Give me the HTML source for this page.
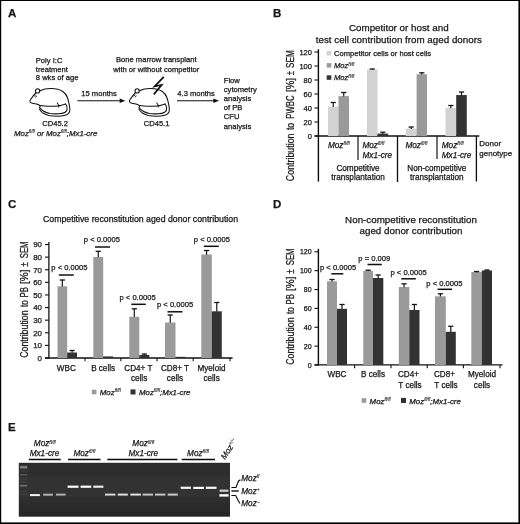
<!DOCTYPE html>
<html lang="en">
<head>
<meta charset="utf-8">
<title>Figure</title>
<style>
html,body{margin:0;padding:0;background:#fff;}
body{width:520px;height:524px;overflow:hidden;position:relative;}
svg{display:block;position:absolute;left:0;top:0;}
svg text{font-family:"Liberation Sans", sans-serif;fill:#161616;stroke:#161616;stroke-width:0.25px;}
.frame{position:absolute;left:0;top:0;width:520px;height:524px;box-sizing:border-box;border-style:solid;border-color:#000;border-width:1px 1.5px 1.5px 1px;pointer-events:none;}
</style>
</head>
<body>
<svg width="520" height="524" viewBox="0 0 520 524">
<rect x="0" y="0" width="520" height="524" fill="#fff"/>
<g filter="url(#soft)">
<text x="8" y="17.3" font-size="11.5" text-anchor="start" font-weight="bold">A</text>
<text x="35.8" y="62.8" font-size="7.6" text-anchor="start">Poly I:C</text>
<text x="35.8" y="71.6" font-size="7.6" text-anchor="start">treatment</text>
<text x="35.8" y="80.4" font-size="7.6" text-anchor="start">8 wks of age</text>
<text x="81.3" y="95.7" font-size="7.6" text-anchor="start">15 months</text>
<text x="42.2" y="126.2" font-size="7.6" text-anchor="start">CD45.2</text>
<text x="14" y="135.8" font-size="7.85" text-anchor="start" font-style="italic">Moz<tspan font-size="4.6" dy="-2.6" stroke-width="0.1">fl/fl</tspan><tspan dy="2.6"> or </tspan>Moz<tspan font-size="4.6" dy="-2.6" stroke-width="0.1">fl/fl</tspan><tspan dy="2.6">;Mx1-cre</tspan></text>
<text x="156.3" y="62.4" font-size="7.6" text-anchor="middle">Bone marrow transplant</text>
<text x="156.3" y="71.6" font-size="7.6" text-anchor="middle">with or without competitor</text>
<text x="143.7" y="126.3" font-size="7.6" text-anchor="start">CD45.1</text>
<text x="177.3" y="96.0" font-size="7.6" text-anchor="start">4.3 months</text>
<text x="223.8" y="83" font-size="7.6" text-anchor="start">Flow</text>
<text x="223.8" y="92.1" font-size="7.6" text-anchor="start">cytometry</text>
<text x="223.8" y="101.3" font-size="7.6" text-anchor="start">analysis</text>
<text x="223.8" y="110.3" font-size="7.6" text-anchor="start">of PB</text>
<text x="223.8" y="119.3" font-size="7.6" text-anchor="start">CFU</text>
<text x="223.8" y="128.8" font-size="7.6" text-anchor="start">analysis</text>
<line x1="77.4" y1="100.7" x2="121.3" y2="100.7" stroke="#111" stroke-width="1.1" stroke-linecap="butt"/>
<path d="M125.3,100.7 L119.7,98.45 L119.7,102.95 Z" fill="#111"/>
<line x1="177" y1="100.8" x2="215" y2="100.8" stroke="#111" stroke-width="1.1" stroke-linecap="butt"/>
<path d="M219,100.8 L213.4,98.55 L213.4,103.05 Z" fill="#111"/>
<g fill="none" stroke="#111" stroke-width="1.05" stroke-linecap="round" stroke-linejoin="round"><path d="M40,90.7 C43.5,89 47.5,88.4 51.3,88.5 C55,88.6 59.5,89.4 62.5,91.3 C65,93 66.5,95 67.4,97.5 C68.3,100 68.7,102 69.2,104.5 C69.8,107.3 70.3,109.5 69.6,111.6 C68.8,113.8 67,114.8 65,115.3 C62.5,116 60,116.2 57.5,116.2 C54.5,116.2 51.5,116 48.7,115.4 C46.3,114.8 44.2,113.9 42.5,112.7 C41.2,111.7 40.2,110.5 39.4,109"/><path d="M65.6,104 C66.4,105 66.9,106.5 67.1,108 C67.3,109.8 66.7,111.3 65.2,112.2 C63.3,113.3 61,113.7 58.7,113.8 C55.8,113.9 52.8,113.9 50,113.5 C47.7,113.1 45.6,112.4 43.7,111.2 C42.3,110.3 41,109.3 40,108.1"/><path d="M35.9,92.6 C34.7,94 33.5,95.4 32.5,96.9 C31.6,98.1 30.6,99.3 30.1,100.4 C29.7,101.4 30,102.2 30.8,102.6 C31.7,103.1 32.7,103.4 33.8,103.5 C35.3,103.7 36.8,103.9 38.1,104.4 C39.2,104.8 40,105.4 40.1,106.3 C40.2,106.8 39.9,107.2 39.4,107.5"/><path d="M40,105.4 C43,105.9 46,106.2 48.8,106.25 C51.8,106.3 54.7,106.2 57.5,105.9 C60.2,105.6 62.8,105 65.6,104"/><path d="M57.3,103 C58.3,104.2 59,105.6 58.7,107 M58.6,105.3 L60.2,105.8"/><circle cx="37.6" cy="90.9" r="2.1" fill="#fff"/><path d="M34.4,96 L35.6,95 M35.6,97 L36.7,96.1" stroke-width="0.9"/></g>
<g transform="translate(99.5,0)"><g fill="none" stroke="#111" stroke-width="1.05" stroke-linecap="round" stroke-linejoin="round"><path d="M40,90.7 C43.5,89 47.5,88.4 51.3,88.5 C55,88.6 59.5,89.4 62.5,91.3 C65,93 66.5,95 67.4,97.5 C68.3,100 68.7,102 69.2,104.5 C69.8,107.3 70.3,109.5 69.6,111.6 C68.8,113.8 67,114.8 65,115.3 C62.5,116 60,116.2 57.5,116.2 C54.5,116.2 51.5,116 48.7,115.4 C46.3,114.8 44.2,113.9 42.5,112.7 C41.2,111.7 40.2,110.5 39.4,109"/><path d="M65.6,104 C66.4,105 66.9,106.5 67.1,108 C67.3,109.8 66.7,111.3 65.2,112.2 C63.3,113.3 61,113.7 58.7,113.8 C55.8,113.9 52.8,113.9 50,113.5 C47.7,113.1 45.6,112.4 43.7,111.2 C42.3,110.3 41,109.3 40,108.1"/><path d="M35.9,92.6 C34.7,94 33.5,95.4 32.5,96.9 C31.6,98.1 30.6,99.3 30.1,100.4 C29.7,101.4 30,102.2 30.8,102.6 C31.7,103.1 32.7,103.4 33.8,103.5 C35.3,103.7 36.8,103.9 38.1,104.4 C39.2,104.8 40,105.4 40.1,106.3 C40.2,106.8 39.9,107.2 39.4,107.5"/><path d="M40,105.4 C43,105.9 46,106.2 48.8,106.25 C51.8,106.3 54.7,106.2 57.5,105.9 C60.2,105.6 62.8,105 65.6,104"/><path d="M57.3,103 C58.3,104.2 59,105.6 58.7,107 M58.6,105.3 L60.2,105.8"/><circle cx="37.6" cy="90.9" r="2.1" fill="#fff"/><path d="M34.4,96 L35.6,95 M35.6,97 L36.7,96.1" stroke-width="0.9"/></g></g>
<path d="M163.8,76.8 L154.6,86.4 L161.6,85 L153.8,94.4" fill="none" stroke="#111" stroke-width="1.7" stroke-linejoin="miter"/>
<text x="273" y="17.3" font-size="11.5" text-anchor="start" font-weight="bold">B</text>
<text x="398.8" y="31" font-size="9.8" text-anchor="middle">Competitor or host and</text>
<text x="398.8" y="42.6" font-size="9.8" text-anchor="middle">test cell contribution from aged donors</text>
<text transform="translate(293.6,181.15) rotate(-90)" font-size="10" textLength="47.60" lengthAdjust="spacingAndGlyphs">Contribution</text>
<text transform="translate(293.6,130.05) rotate(-90)" font-size="10" textLength="7.20" lengthAdjust="spacingAndGlyphs">to</text>
<text transform="translate(293.6,118.65) rotate(-90)" font-size="10" textLength="23.20" lengthAdjust="spacingAndGlyphs">PWBC</text>
<text transform="translate(293.6,91.95) rotate(-90)" font-size="10" textLength="13.80" lengthAdjust="spacingAndGlyphs">[%]</text>
<text transform="translate(293.6,75.35) rotate(-90)" font-size="10" textLength="4.10" lengthAdjust="spacingAndGlyphs">±</text>
<text transform="translate(293.6,67.95) rotate(-90)" font-size="10" textLength="17.60" lengthAdjust="spacingAndGlyphs">SEM</text>
<line x1="318.4" y1="49.2" x2="318.4" y2="181.6" stroke="#111" stroke-width="1.4" stroke-linecap="butt"/>
<line x1="314.5" y1="136" x2="479.3" y2="136" stroke="#111" stroke-width="1.3" stroke-linecap="butt"/>
<line x1="314.5" y1="136.0" x2="318.3" y2="136.0" stroke="#111" stroke-width="1.1" stroke-linecap="butt"/>
<text x="311.9" y="138.7" font-size="7.5" text-anchor="end">0</text>
<line x1="314.5" y1="122.0" x2="318.3" y2="122.0" stroke="#111" stroke-width="1.1" stroke-linecap="butt"/>
<text x="311.9" y="124.7" font-size="7.5" text-anchor="end">20</text>
<line x1="314.5" y1="108.0" x2="318.3" y2="108.0" stroke="#111" stroke-width="1.1" stroke-linecap="butt"/>
<text x="311.9" y="110.7" font-size="7.5" text-anchor="end">40</text>
<line x1="314.5" y1="94.0" x2="318.3" y2="94.0" stroke="#111" stroke-width="1.1" stroke-linecap="butt"/>
<text x="311.9" y="96.7" font-size="7.5" text-anchor="end">60</text>
<line x1="314.5" y1="80.0" x2="318.3" y2="80.0" stroke="#111" stroke-width="1.1" stroke-linecap="butt"/>
<text x="311.9" y="82.7" font-size="7.5" text-anchor="end">80</text>
<line x1="314.5" y1="66.0" x2="318.3" y2="66.0" stroke="#111" stroke-width="1.1" stroke-linecap="butt"/>
<text x="311.9" y="68.7" font-size="7.5" text-anchor="end">100</text>
<line x1="314.5" y1="52.0" x2="318.3" y2="52.0" stroke="#111" stroke-width="1.1" stroke-linecap="butt"/>
<text x="311.9" y="54.7" font-size="7.5" text-anchor="end">120</text>
<line x1="358" y1="136" x2="358" y2="160" stroke="#111" stroke-width="1.2" stroke-linecap="butt"/>
<line x1="397.5" y1="136" x2="397.5" y2="182" stroke="#111" stroke-width="1.3" stroke-linecap="butt"/>
<line x1="437" y1="136" x2="437" y2="159" stroke="#111" stroke-width="1.2" stroke-linecap="butt"/>
<line x1="476.4" y1="136" x2="476.4" y2="181.5" stroke="#111" stroke-width="1.3" stroke-linecap="butt"/>
<rect x="328.00" y="106.60" width="10.50" height="29.40" fill="#d2d2d2"/>
<line x1="333.25" y1="102.5" x2="333.25" y2="106.89999999999999" stroke="#151515" stroke-width="1.2" stroke-linecap="butt"/>
<line x1="330.65" y1="102.5" x2="335.85" y2="102.5" stroke="#151515" stroke-width="1.3" stroke-linecap="butt"/>
<rect x="338.50" y="96.10" width="10.50" height="39.90" fill="#9a9a9a"/>
<line x1="343.75" y1="92.5" x2="343.75" y2="96.39999999999999" stroke="#151515" stroke-width="1.2" stroke-linecap="butt"/>
<line x1="341.15" y1="92.5" x2="346.35" y2="92.5" stroke="#151515" stroke-width="1.3" stroke-linecap="butt"/>
<rect x="367.00" y="69.50" width="10.50" height="66.50" fill="#d2d2d2"/>
<line x1="372.25" y1="69" x2="372.25" y2="69.8" stroke="#151515" stroke-width="1.2" stroke-linecap="butt"/>
<line x1="369.65" y1="69" x2="374.85" y2="69" stroke="#151515" stroke-width="1.3" stroke-linecap="butt"/>
<rect x="377.50" y="133.60" width="10.70" height="2.40" fill="#333333"/>
<line x1="382.85" y1="132.2" x2="382.85" y2="133.9" stroke="#151515" stroke-width="1.2" stroke-linecap="butt"/>
<line x1="380.25" y1="132.2" x2="385.45000000000005" y2="132.2" stroke="#151515" stroke-width="1.3" stroke-linecap="butt"/>
<rect x="405.80" y="128.65" width="10.80" height="7.35" fill="#d2d2d2"/>
<line x1="411.20000000000005" y1="127" x2="411.20000000000005" y2="128.95000000000002" stroke="#151515" stroke-width="1.2" stroke-linecap="butt"/>
<line x1="408.6" y1="127" x2="413.80000000000007" y2="127" stroke="#151515" stroke-width="1.3" stroke-linecap="butt"/>
<rect x="416.60" y="74.26" width="10.40" height="61.74" fill="#9a9a9a"/>
<line x1="421.8" y1="72.8" x2="421.8" y2="74.56" stroke="#151515" stroke-width="1.2" stroke-linecap="butt"/>
<line x1="419.2" y1="72.8" x2="424.40000000000003" y2="72.8" stroke="#151515" stroke-width="1.3" stroke-linecap="butt"/>
<rect x="445.50" y="108.00" width="10.70" height="28.00" fill="#d2d2d2"/>
<line x1="450.85" y1="105.5" x2="450.85" y2="108.3" stroke="#151515" stroke-width="1.2" stroke-linecap="butt"/>
<line x1="448.25" y1="105.5" x2="453.45000000000005" y2="105.5" stroke="#151515" stroke-width="1.3" stroke-linecap="butt"/>
<rect x="456.20" y="95.05" width="10.60" height="40.95" fill="#333333"/>
<line x1="461.5" y1="92" x2="461.5" y2="95.35000000000001" stroke="#151515" stroke-width="1.2" stroke-linecap="butt"/>
<line x1="458.9" y1="92" x2="464.1" y2="92" stroke="#151515" stroke-width="1.3" stroke-linecap="butt"/>
<rect x="326.70" y="51.00" width="4.60" height="4.50" fill="#d2d2d2"/>
<text x="334" y="55.8" font-size="7.6" text-anchor="start">Competitor cells or host cells</text>
<rect x="326.70" y="63.10" width="4.60" height="4.50" fill="#9a9a9a"/>
<text x="334" y="68.2" font-size="7.6" text-anchor="start" font-style="italic">Moz<tspan font-size="4.6" dy="-2.6" stroke-width="0.1">fl/fl</tspan></text>
<rect x="326.70" y="75.30" width="4.60" height="4.50" fill="#333333"/>
<text x="334" y="80.1" font-size="7.6" text-anchor="start" font-style="italic">Moz<tspan font-size="4.6" dy="-2.6" stroke-width="0.1">fl/fl</tspan></text>
<text x="328" y="147.6" font-size="8.2" text-anchor="start" font-style="italic">Moz<tspan font-size="5" dy="-2.8" stroke-width="0.1">fl/fl</tspan></text>
<text x="362.5" y="147.6" font-size="8.2" text-anchor="start" font-style="italic">Moz<tspan font-size="5" dy="-2.8" stroke-width="0.1">fl/fl</tspan></text>
<text x="362.5" y="158" font-size="8.2" text-anchor="start" font-style="italic">Mx1-cre</text>
<text x="405.5" y="147.6" font-size="8.2" text-anchor="start" font-style="italic">Moz<tspan font-size="5" dy="-2.8" stroke-width="0.1">fl/fl</tspan></text>
<text x="441.8" y="147.6" font-size="8.2" text-anchor="start" font-style="italic">Moz<tspan font-size="5" dy="-2.8" stroke-width="0.1">fl/fl</tspan></text>
<text x="441.8" y="158" font-size="8.2" text-anchor="start" font-style="italic">Mx1-cre</text>
<text x="479.3" y="146.4" font-size="8" text-anchor="start">Donor</text>
<text x="479.3" y="156.2" font-size="8" text-anchor="start">genotype</text>
<text x="358" y="171" font-size="8.2" text-anchor="middle">Competitive</text>
<text x="358" y="180.3" font-size="8.2" text-anchor="middle">transplantation</text>
<text x="436.8" y="171" font-size="8.2" text-anchor="middle">Non-competitive</text>
<text x="436.8" y="180.3" font-size="8.2" text-anchor="middle">transplantation</text>
<text x="8" y="208.2" font-size="11.5" text-anchor="start" font-weight="bold">C</text>
<text x="43" y="221.7" font-size="8.75" text-anchor="start">Competitive reconstitution aged donor contribution</text>
<text transform="translate(27.8,357.85) rotate(-90)" font-size="10" textLength="47.40" lengthAdjust="spacingAndGlyphs">Contribution</text>
<text transform="translate(27.8,306.95) rotate(-90)" font-size="10" textLength="6.80" lengthAdjust="spacingAndGlyphs">to</text>
<text transform="translate(27.8,297.45) rotate(-90)" font-size="10" textLength="10.50" lengthAdjust="spacingAndGlyphs">PB</text>
<text transform="translate(27.8,284.05) rotate(-90)" font-size="10" textLength="14.50" lengthAdjust="spacingAndGlyphs">[%]</text>
<text transform="translate(27.8,266.65) rotate(-90)" font-size="10" textLength="4.50" lengthAdjust="spacingAndGlyphs">±</text>
<text transform="translate(27.8,258.25) rotate(-90)" font-size="10" textLength="16.80" lengthAdjust="spacingAndGlyphs">SEM</text>
<line x1="48.9" y1="242" x2="48.9" y2="358.6" stroke="#111" stroke-width="1.3" stroke-linecap="butt"/>
<line x1="45" y1="358" x2="232.6" y2="358" stroke="#111" stroke-width="1.3" stroke-linecap="butt"/>
<line x1="45" y1="358.0" x2="48.9" y2="358.0" stroke="#111" stroke-width="1.1" stroke-linecap="butt"/>
<text x="42" y="360.8" font-size="7.9" text-anchor="end">0</text>
<line x1="45" y1="345.394" x2="48.9" y2="345.394" stroke="#111" stroke-width="1.1" stroke-linecap="butt"/>
<text x="42" y="348.194" font-size="7.9" text-anchor="end">10</text>
<line x1="45" y1="332.788" x2="48.9" y2="332.788" stroke="#111" stroke-width="1.1" stroke-linecap="butt"/>
<text x="42" y="335.588" font-size="7.9" text-anchor="end">20</text>
<line x1="45" y1="320.182" x2="48.9" y2="320.182" stroke="#111" stroke-width="1.1" stroke-linecap="butt"/>
<text x="42" y="322.982" font-size="7.9" text-anchor="end">30</text>
<line x1="45" y1="307.576" x2="48.9" y2="307.576" stroke="#111" stroke-width="1.1" stroke-linecap="butt"/>
<text x="42" y="310.37600000000003" font-size="7.9" text-anchor="end">40</text>
<line x1="45" y1="294.97" x2="48.9" y2="294.97" stroke="#111" stroke-width="1.1" stroke-linecap="butt"/>
<text x="42" y="297.77000000000004" font-size="7.9" text-anchor="end">50</text>
<line x1="45" y1="282.36400000000003" x2="48.9" y2="282.36400000000003" stroke="#111" stroke-width="1.1" stroke-linecap="butt"/>
<text x="42" y="285.16400000000004" font-size="7.9" text-anchor="end">60</text>
<line x1="45" y1="269.75800000000004" x2="48.9" y2="269.75800000000004" stroke="#111" stroke-width="1.1" stroke-linecap="butt"/>
<text x="42" y="272.55800000000005" font-size="7.9" text-anchor="end">70</text>
<line x1="45" y1="257.152" x2="48.9" y2="257.152" stroke="#111" stroke-width="1.1" stroke-linecap="butt"/>
<text x="42" y="259.952" font-size="7.9" text-anchor="end">80</text>
<line x1="45" y1="244.546" x2="48.9" y2="244.546" stroke="#111" stroke-width="1.1" stroke-linecap="butt"/>
<text x="42" y="247.346" font-size="7.9" text-anchor="end">90</text>
<line x1="85" y1="358" x2="85" y2="361.3" stroke="#111" stroke-width="1.1" stroke-linecap="butt"/>
<line x1="120.9" y1="358" x2="120.9" y2="361.3" stroke="#111" stroke-width="1.1" stroke-linecap="butt"/>
<line x1="157" y1="358" x2="157" y2="361.3" stroke="#111" stroke-width="1.1" stroke-linecap="butt"/>
<line x1="193.2" y1="358" x2="193.2" y2="361.3" stroke="#111" stroke-width="1.1" stroke-linecap="butt"/>
<line x1="230" y1="358" x2="230" y2="361.3" stroke="#111" stroke-width="1.1" stroke-linecap="butt"/>
<rect x="57.50" y="286.30" width="9.70" height="71.70" fill="#9a9a9a"/>
<line x1="62.35" y1="280" x2="62.35" y2="286.6" stroke="#151515" stroke-width="1.2" stroke-linecap="butt"/>
<line x1="59.75" y1="280" x2="64.95" y2="280" stroke="#151515" stroke-width="1.3" stroke-linecap="butt"/>
<rect x="67.20" y="352.50" width="9.80" height="5.50" fill="#333333"/>
<line x1="72.1" y1="350.5" x2="72.1" y2="352.8" stroke="#151515" stroke-width="1.2" stroke-linecap="butt"/>
<line x1="69.5" y1="350.5" x2="74.69999999999999" y2="350.5" stroke="#151515" stroke-width="1.3" stroke-linecap="butt"/>
<rect x="93.30" y="257.00" width="9.90" height="101.00" fill="#9a9a9a"/>
<line x1="98.25" y1="251.3" x2="98.25" y2="257.3" stroke="#151515" stroke-width="1.2" stroke-linecap="butt"/>
<line x1="95.65" y1="251.3" x2="100.85" y2="251.3" stroke="#151515" stroke-width="1.3" stroke-linecap="butt"/>
<rect x="103.20" y="356.40" width="9.80" height="1.60" fill="#333333"/>
<rect x="129.30" y="316.80" width="10.00" height="41.20" fill="#9a9a9a"/>
<line x1="134.3" y1="308.8" x2="134.3" y2="317.1" stroke="#151515" stroke-width="1.2" stroke-linecap="butt"/>
<line x1="131.70000000000002" y1="308.8" x2="136.9" y2="308.8" stroke="#151515" stroke-width="1.3" stroke-linecap="butt"/>
<rect x="139.30" y="355.00" width="10.00" height="3.00" fill="#333333"/>
<line x1="144.3" y1="354" x2="144.3" y2="355.3" stroke="#151515" stroke-width="1.2" stroke-linecap="butt"/>
<line x1="141.70000000000002" y1="354" x2="146.9" y2="354" stroke="#151515" stroke-width="1.3" stroke-linecap="butt"/>
<rect x="165.00" y="322.50" width="10.50" height="35.50" fill="#9a9a9a"/>
<line x1="170.25" y1="315" x2="170.25" y2="322.8" stroke="#151515" stroke-width="1.2" stroke-linecap="butt"/>
<line x1="167.65" y1="315" x2="172.85" y2="315" stroke="#151515" stroke-width="1.3" stroke-linecap="butt"/>
<rect x="175.50" y="356.80" width="10.00" height="1.20" fill="#333333"/>
<rect x="201.30" y="254.50" width="10.50" height="103.50" fill="#9a9a9a"/>
<line x1="206.55" y1="250.5" x2="206.55" y2="254.8" stroke="#151515" stroke-width="1.2" stroke-linecap="butt"/>
<line x1="203.95000000000002" y1="250.5" x2="209.15" y2="250.5" stroke="#151515" stroke-width="1.3" stroke-linecap="butt"/>
<rect x="211.80" y="311.30" width="10.00" height="46.70" fill="#333333"/>
<line x1="216.8" y1="302.5" x2="216.8" y2="311.6" stroke="#151515" stroke-width="1.2" stroke-linecap="butt"/>
<line x1="214.20000000000002" y1="302.5" x2="219.4" y2="302.5" stroke="#151515" stroke-width="1.3" stroke-linecap="butt"/>
<text x="51.3" y="270.2" font-size="7.6" text-anchor="start">p &lt; 0.0005</text>
<line x1="58.8" y1="275" x2="73.8" y2="275" stroke="#111" stroke-width="1.5" stroke-linecap="butt"/>
<text x="83.8" y="241.9" font-size="7.6" text-anchor="start">p &lt; 0.0005</text>
<line x1="95" y1="247" x2="110" y2="247" stroke="#111" stroke-width="1.5" stroke-linecap="butt"/>
<text x="119.5" y="299.9" font-size="7.6" text-anchor="start">p &lt; 0.0005</text>
<line x1="131.3" y1="304.3" x2="145.8" y2="304.3" stroke="#111" stroke-width="1.5" stroke-linecap="butt"/>
<text x="157.0" y="306.9" font-size="7.6" text-anchor="start">p &lt; 0.0005</text>
<line x1="167.5" y1="311.8" x2="182.5" y2="311.8" stroke="#111" stroke-width="1.5" stroke-linecap="butt"/>
<text x="193.8" y="241.9" font-size="7.6" text-anchor="start">p &lt; 0.0005</text>
<line x1="203.8" y1="246.3" x2="218.8" y2="246.3" stroke="#111" stroke-width="1.5" stroke-linecap="butt"/>
<text x="66.3" y="370.8" font-size="8.15" text-anchor="middle">WBC</text>
<text x="103.1" y="370.8" font-size="8.15" text-anchor="middle">B cells</text>
<text x="138.4" y="370.8" font-size="8.15" text-anchor="middle">CD4+ T</text>
<text x="139.1" y="380.8" font-size="8.15" text-anchor="middle">cells</text>
<text x="175" y="370.8" font-size="8.15" text-anchor="middle">CD8+ T</text>
<text x="175" y="380.8" font-size="8.15" text-anchor="middle">cells</text>
<text x="211.5" y="370.8" font-size="8.15" text-anchor="middle">Myeloid</text>
<text x="211.6" y="380.8" font-size="8.15" text-anchor="middle">cells</text>
<rect x="91.80" y="389.70" width="4.60" height="4.60" fill="#9a9a9a"/>
<text x="99.8" y="395.3" font-size="7.85" text-anchor="start" font-style="italic">Moz<tspan font-size="4.8" dy="-2.9" stroke-width="0.1">fl/fl</tspan></text>
<rect x="130.50" y="389.40" width="5.00" height="5.10" fill="#333333"/>
<text x="139" y="395.3" font-size="7.85" text-anchor="start" font-style="italic">Moz<tspan font-size="4.8" dy="-2.9" stroke-width="0.1">fl/fl</tspan><tspan dy="2.9">;Mx1-cre</tspan></text>
<text x="273" y="208.2" font-size="11.5" text-anchor="start" font-weight="bold">D</text>
<text x="411" y="222.5" font-size="9.8" text-anchor="middle">Non-competitive reconstitution</text>
<text x="411" y="234.3" font-size="9.8" text-anchor="middle">aged donor contribution</text>
<text transform="translate(293.5,364.85) rotate(-90)" font-size="10" textLength="47.40" lengthAdjust="spacingAndGlyphs">Contribution</text>
<text transform="translate(293.5,313.95) rotate(-90)" font-size="10" textLength="6.80" lengthAdjust="spacingAndGlyphs">to</text>
<text transform="translate(293.5,304.45) rotate(-90)" font-size="10" textLength="10.50" lengthAdjust="spacingAndGlyphs">PB</text>
<text transform="translate(293.5,291.05) rotate(-90)" font-size="10" textLength="14.50" lengthAdjust="spacingAndGlyphs">[%]</text>
<text transform="translate(293.5,273.65) rotate(-90)" font-size="10" textLength="4.50" lengthAdjust="spacingAndGlyphs">±</text>
<text transform="translate(293.5,265.25) rotate(-90)" font-size="10" textLength="16.80" lengthAdjust="spacingAndGlyphs">SEM</text>
<line x1="318.4" y1="248.8" x2="318.4" y2="365.6" stroke="#111" stroke-width="1.4" stroke-linecap="butt"/>
<line x1="314.5" y1="364.9" x2="502.5" y2="364.9" stroke="#111" stroke-width="1.3" stroke-linecap="butt"/>
<line x1="314.5" y1="365.0" x2="318.3" y2="365.0" stroke="#111" stroke-width="1.1" stroke-linecap="butt"/>
<text x="311.6" y="367.5" font-size="7.0" text-anchor="end">0</text>
<line x1="314.5" y1="346.134" x2="318.3" y2="346.134" stroke="#111" stroke-width="1.1" stroke-linecap="butt"/>
<text x="311.6" y="348.634" font-size="7.0" text-anchor="end">20</text>
<line x1="314.5" y1="327.26800000000003" x2="318.3" y2="327.26800000000003" stroke="#111" stroke-width="1.1" stroke-linecap="butt"/>
<text x="311.6" y="329.76800000000003" font-size="7.0" text-anchor="end">40</text>
<line x1="314.5" y1="308.402" x2="318.3" y2="308.402" stroke="#111" stroke-width="1.1" stroke-linecap="butt"/>
<text x="311.6" y="310.902" font-size="7.0" text-anchor="end">60</text>
<line x1="314.5" y1="289.536" x2="318.3" y2="289.536" stroke="#111" stroke-width="1.1" stroke-linecap="butt"/>
<text x="311.6" y="292.036" font-size="7.0" text-anchor="end">80</text>
<line x1="314.5" y1="270.67" x2="318.3" y2="270.67" stroke="#111" stroke-width="1.1" stroke-linecap="butt"/>
<text x="311.6" y="273.17" font-size="7.0" text-anchor="end">100</text>
<line x1="314.5" y1="251.804" x2="318.3" y2="251.804" stroke="#111" stroke-width="1.1" stroke-linecap="butt"/>
<text x="311.6" y="254.304" font-size="7.0" text-anchor="end">120</text>
<line x1="354.6" y1="365" x2="354.6" y2="368.3" stroke="#111" stroke-width="1.1" stroke-linecap="butt"/>
<line x1="391" y1="365" x2="391" y2="368.3" stroke="#111" stroke-width="1.1" stroke-linecap="butt"/>
<line x1="427.2" y1="365" x2="427.2" y2="368.3" stroke="#111" stroke-width="1.1" stroke-linecap="butt"/>
<line x1="463.4" y1="365" x2="463.4" y2="368.3" stroke="#111" stroke-width="1.1" stroke-linecap="butt"/>
<line x1="500" y1="365" x2="500" y2="368.3" stroke="#111" stroke-width="1.1" stroke-linecap="butt"/>
<rect x="327.00" y="281.30" width="10.00" height="83.70" fill="#9a9a9a"/>
<line x1="332.0" y1="279.5" x2="332.0" y2="281.6" stroke="#151515" stroke-width="1.2" stroke-linecap="butt"/>
<line x1="329.4" y1="279.5" x2="334.6" y2="279.5" stroke="#151515" stroke-width="1.3" stroke-linecap="butt"/>
<rect x="337.00" y="308.80" width="10.00" height="56.20" fill="#333333"/>
<line x1="342.0" y1="304.5" x2="342.0" y2="309.1" stroke="#151515" stroke-width="1.2" stroke-linecap="butt"/>
<line x1="339.4" y1="304.5" x2="344.6" y2="304.5" stroke="#151515" stroke-width="1.3" stroke-linecap="butt"/>
<rect x="363.30" y="270.80" width="9.70" height="94.20" fill="#9a9a9a"/>
<line x1="368.15" y1="270.2" x2="368.15" y2="271.1" stroke="#151515" stroke-width="1.2" stroke-linecap="butt"/>
<line x1="365.54999999999995" y1="270.2" x2="370.75" y2="270.2" stroke="#151515" stroke-width="1.3" stroke-linecap="butt"/>
<rect x="373.00" y="278.00" width="10.30" height="87.00" fill="#333333"/>
<line x1="378.15" y1="275" x2="378.15" y2="278.3" stroke="#151515" stroke-width="1.2" stroke-linecap="butt"/>
<line x1="375.54999999999995" y1="275" x2="380.75" y2="275" stroke="#151515" stroke-width="1.3" stroke-linecap="butt"/>
<rect x="398.80" y="287.00" width="10.50" height="78.00" fill="#9a9a9a"/>
<line x1="404.05" y1="283.8" x2="404.05" y2="287.3" stroke="#151515" stroke-width="1.2" stroke-linecap="butt"/>
<line x1="401.45" y1="283.8" x2="406.65000000000003" y2="283.8" stroke="#151515" stroke-width="1.3" stroke-linecap="butt"/>
<rect x="409.30" y="310.00" width="10.20" height="55.00" fill="#333333"/>
<line x1="414.4" y1="304.5" x2="414.4" y2="310.3" stroke="#151515" stroke-width="1.2" stroke-linecap="butt"/>
<line x1="411.79999999999995" y1="304.5" x2="417.0" y2="304.5" stroke="#151515" stroke-width="1.3" stroke-linecap="butt"/>
<rect x="435.00" y="296.30" width="10.80" height="68.70" fill="#9a9a9a"/>
<line x1="440.4" y1="293.8" x2="440.4" y2="296.6" stroke="#151515" stroke-width="1.2" stroke-linecap="butt"/>
<line x1="437.79999999999995" y1="293.8" x2="443.0" y2="293.8" stroke="#151515" stroke-width="1.3" stroke-linecap="butt"/>
<rect x="445.80" y="331.80" width="10.00" height="33.20" fill="#333333"/>
<line x1="450.8" y1="326.3" x2="450.8" y2="332.1" stroke="#151515" stroke-width="1.2" stroke-linecap="butt"/>
<line x1="448.2" y1="326.3" x2="453.40000000000003" y2="326.3" stroke="#151515" stroke-width="1.3" stroke-linecap="butt"/>
<rect x="471.30" y="272.00" width="10.50" height="93.00" fill="#9a9a9a"/>
<line x1="476.55" y1="271.5" x2="476.55" y2="272.3" stroke="#151515" stroke-width="1.2" stroke-linecap="butt"/>
<line x1="473.95" y1="271.5" x2="479.15000000000003" y2="271.5" stroke="#151515" stroke-width="1.3" stroke-linecap="butt"/>
<rect x="481.80" y="270.50" width="10.20" height="94.50" fill="#333333"/>
<line x1="486.9" y1="270" x2="486.9" y2="270.8" stroke="#151515" stroke-width="1.2" stroke-linecap="butt"/>
<line x1="484.29999999999995" y1="270" x2="489.5" y2="270" stroke="#151515" stroke-width="1.3" stroke-linecap="butt"/>
<text x="320.0" y="270.0" font-size="7.6" text-anchor="start">p &lt; 0.0005</text>
<line x1="331.3" y1="273.8" x2="343.3" y2="273.8" stroke="#111" stroke-width="1.5" stroke-linecap="butt"/>
<text x="358.3" y="260.5" font-size="7.6" text-anchor="start">p = 0.009</text>
<line x1="367.5" y1="264.5" x2="381.8" y2="264.5" stroke="#111" stroke-width="1.5" stroke-linecap="butt"/>
<text x="390.5" y="275.0" font-size="7.6" text-anchor="start">p &lt; 0.0005</text>
<line x1="401.3" y1="278.8" x2="415.8" y2="278.8" stroke="#111" stroke-width="1.5" stroke-linecap="butt"/>
<text x="426.3" y="285.5" font-size="7.6" text-anchor="start">p &lt; 0.0005</text>
<line x1="437.5" y1="289.3" x2="452" y2="289.3" stroke="#111" stroke-width="1.5" stroke-linecap="butt"/>
<text x="337" y="377" font-size="8.15" text-anchor="middle">WBC</text>
<text x="373" y="377" font-size="8.15" text-anchor="middle">B cells</text>
<text x="408.5" y="377" font-size="8.15" text-anchor="middle">CD4+</text>
<text x="410" y="387.5" font-size="8.15" text-anchor="middle">T cells</text>
<text x="444.5" y="377" font-size="8.15" text-anchor="middle">CD8+</text>
<text x="446" y="387.5" font-size="8.15" text-anchor="middle">T cells</text>
<text x="482" y="377" font-size="8.15" text-anchor="middle">Myeloid</text>
<text x="482" y="387.5" font-size="8.15" text-anchor="middle">cells</text>
<rect x="361.60" y="398.20" width="4.60" height="4.60" fill="#9a9a9a"/>
<text x="369.6" y="403.6" font-size="7.85" text-anchor="start" font-style="italic">Moz<tspan font-size="4.8" dy="-2.9" stroke-width="0.1">fl/fl</tspan></text>
<rect x="401.00" y="397.90" width="5.00" height="5.10" fill="#333333"/>
<text x="409.3" y="403.6" font-size="7.85" text-anchor="start" font-style="italic">Moz<tspan font-size="4.8" dy="-2.9" stroke-width="0.1">fl/fl</tspan><tspan dy="2.9">;Mx1-cre</tspan></text>
<text x="8" y="430.7" font-size="11.5" text-anchor="start" font-weight="bold">E</text>
<text x="44.8" y="446.3" font-size="8.2" text-anchor="middle" font-style="italic">Moz<tspan font-size="5" dy="-2.8" stroke-width="0.1">fl/fl</tspan></text>
<text x="44.5" y="455.6" font-size="8.2" text-anchor="middle" font-style="italic">Mx1-cre</text>
<line x1="28.8" y1="459.4" x2="60.8" y2="459.4" stroke="#111" stroke-width="1.5" stroke-linecap="butt"/>
<text x="84.4" y="455.6" font-size="8.2" text-anchor="middle" font-style="italic">Moz<tspan font-size="5" dy="-2.8" stroke-width="0.1">fl/fl</tspan></text>
<line x1="68" y1="459.4" x2="100.5" y2="459.4" stroke="#111" stroke-width="1.5" stroke-linecap="butt"/>
<text x="143.3" y="446.3" font-size="8.2" text-anchor="middle" font-style="italic">Moz<tspan font-size="5" dy="-2.8" stroke-width="0.1">fl/fl</tspan></text>
<text x="143.3" y="455.6" font-size="8.2" text-anchor="middle" font-style="italic">Mx1-cre</text>
<line x1="107.3" y1="459.4" x2="177.5" y2="459.4" stroke="#111" stroke-width="1.5" stroke-linecap="butt"/>
<text x="198" y="455.6" font-size="8.2" text-anchor="middle" font-style="italic">Moz<tspan font-size="5" dy="-2.8" stroke-width="0.1">fl/fl</tspan></text>
<line x1="181.7" y1="459.4" x2="215" y2="459.4" stroke="#111" stroke-width="1.5" stroke-linecap="butt"/>
<text transform="translate(225,460) rotate(-57)" font-size="8.2" font-style="italic">Moz<tspan font-size="5" dy="-2.8" stroke-width="0.1">+/−</tspan></text>
<defs><filter id="soft" x="0" y="0" width="520" height="524" filterUnits="userSpaceOnUse"><feGaussianBlur stdDeviation="0.32"/></filter><filter id="bl" x="-20%" y="-100%" width="140%" height="300%"><feGaussianBlur stdDeviation="0.55"/></filter><linearGradient id="gelg" x1="0" y1="0" x2="0" y2="1"><stop offset="0" stop-color="#2c2c2c"/><stop offset="0.5" stop-color="#333"/><stop offset="1" stop-color="#262626"/></linearGradient></defs>
<rect x="18.8" y="462.8" width="211.2" height="53.9" fill="url(#gelg)"/>
<g filter="url(#bl)">
<rect x="20.0" y="465.90" width="7.2" height="2.6" fill="#bbb" opacity="0.55"/>
<rect x="20.0" y="470.50" width="7.2" height="1.0" fill="#999" opacity="0.2"/>
<rect x="20.0" y="474.00" width="7.2" height="1.4" fill="#aaa" opacity="0.35"/>
<rect x="20.0" y="478.30" width="7.2" height="1.0" fill="#999" opacity="0.15"/>
<rect x="20.0" y="481.50" width="7.2" height="1.0" fill="#999" opacity="0.25"/>
<rect x="20.0" y="484.90" width="7.2" height="1.6" fill="#bbb" opacity="0.45"/>
<rect x="20.0" y="490.90" width="7.2" height="1.0" fill="#999" opacity="0.15"/>
<rect x="20.0" y="493.80" width="7.2" height="1.0" fill="#999" opacity="0.2"/>
<rect x="30.0" y="494.10" width="9.9" height="2.0" fill="#fff" opacity="0.95"/>
<rect x="43.2" y="493.70" width="9.7" height="2.0" fill="#fff" opacity="0.62"/>
<rect x="55.9" y="493.60" width="9.7" height="2.0" fill="#fff" opacity="0.62"/>
<rect x="67.6" y="485.60" width="10.9" height="2.2" fill="#fff" opacity="1.0"/>
<rect x="80.6" y="485.60" width="10.6" height="2.2" fill="#fff" opacity="1.0"/>
<rect x="93.3" y="485.60" width="10.1" height="2.2" fill="#fff" opacity="0.9"/>
<rect x="105.0" y="493.60" width="10.4" height="2.0" fill="#fff" opacity="0.8"/>
<rect x="117.8" y="493.60" width="10.0" height="2.0" fill="#fff" opacity="0.85"/>
<rect x="130.4" y="493.60" width="10.5" height="2.0" fill="#fff" opacity="0.85"/>
<rect x="142.6" y="493.60" width="10.4" height="2.0" fill="#fff" opacity="0.7"/>
<rect x="155.0" y="493.60" width="10.4" height="2.0" fill="#fff" opacity="0.72"/>
<rect x="167.7" y="493.60" width="10.1" height="2.0" fill="#fff" opacity="0.75"/>
<rect x="180.7" y="486.70" width="10.2" height="2.2" fill="#fff" opacity="0.95"/>
<rect x="193.2" y="486.80" width="10.8" height="2.2" fill="#fff" opacity="1.0"/>
<rect x="205.8" y="486.70" width="10.7" height="2.2" fill="#fff" opacity="0.95"/>
<rect x="219.6" y="489.60" width="8.8" height="2.2" fill="#fff" opacity="0.75"/>
<rect x="219.4" y="494.20" width="9.2" height="2.4" fill="#fff" opacity="1.0"/>
</g>
<path d="M231.4,487.5 L236,487.5 L238.4,481.2 L240.4,479.8" fill="none" stroke="#111" stroke-width="1.1"/>
<line x1="231.4" y1="491" x2="238.8" y2="491" stroke="#111" stroke-width="1.4" stroke-linecap="butt"/>
<path d="M231.4,495.5 L235.6,495.5 L239.9,503.6" fill="none" stroke="#111" stroke-width="1.1"/>
<text x="241.3" y="481.2" font-size="8.2" text-anchor="start" font-style="italic">Moz<tspan font-size="5" dy="-2.8" stroke-width="0.1">fl</tspan></text>
<text x="241.3" y="493.8" font-size="8.2" text-anchor="start" font-style="italic">Moz<tspan font-size="5" dy="-2.8" stroke-width="0.1">+</tspan></text>
<text x="241.3" y="506.4" font-size="8.2" text-anchor="start" font-style="italic">Moz<tspan font-size="5" dy="-2.8" stroke-width="0.1">−</tspan></text>
</g>
<rect x="0" y="0" width="1.2" height="524" fill="#000"/>
<rect x="0" y="0" width="520" height="1" fill="#000"/>
<rect x="518.4" y="0" width="1.6" height="524" fill="#000"/>
<rect x="0" y="522.4" width="520" height="1.6" fill="#000"/>
</svg>
</body>
</html>
